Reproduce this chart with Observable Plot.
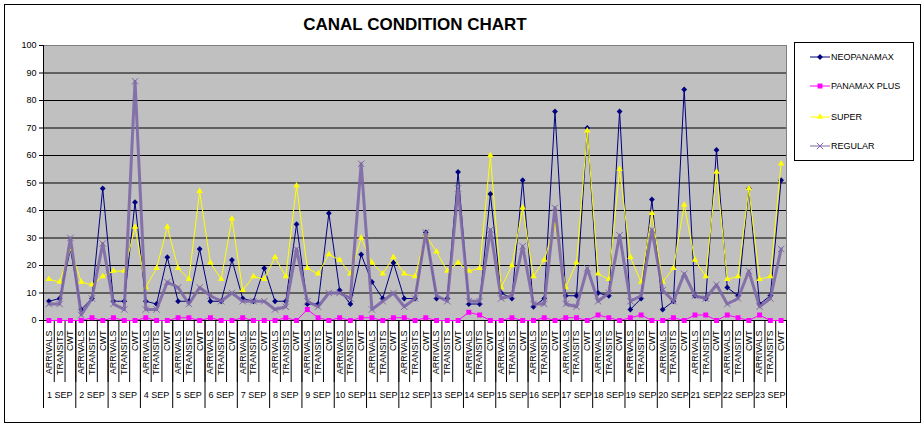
<!DOCTYPE html>
<html><head><meta charset="utf-8">
<script src="https://cdn.jsdelivr.net/npm/d3@7"></script>
<script src="https://cdn.jsdelivr.net/npm/@observablehq/plot@0.6"></script>
<style>
body{margin:0;background:#fff;font-family:"Liberation Sans",Arial,sans-serif;}
#wrap{position:relative;width:924px;height:427px;overflow:hidden;}
#frame{position:absolute;left:4px;top:4px;width:917px;height:419px;border:1px solid #000;box-sizing:border-box;pointer-events:none;}
#title{position:absolute;left:0;top:15px;width:830px;text-align:center;font:bold 17px "Liberation Sans",Arial,sans-serif;line-height:20px;color:#000;}
#chart{position:absolute;left:0;top:0;}
#legend{position:absolute;left:794px;top:42px;width:120px;height:119px;border:1px solid #000;box-sizing:border-box;background:#fff;}
</style>
</head><body>
<div id="wrap">
  <div id="chart"></div>
  <div id="title">CANAL CONDITION CHART</div>
  <div id="legend"></div>
  <div id="frame"></div>
</div>
<script>
const days = ["1 SEP","2 SEP","3 SEP","4 SEP","5 SEP","6 SEP","7 SEP","8 SEP","9 SEP","10 SEP","11 SEP","12 SEP","13 SEP","14 SEP","15 SEP","16 SEP","17 SEP","18 SEP","19 SEP","20 SEP","21 SEP","22 SEP","23 SEP"];
const categories = ["ARRIVALS","TRANSITS","CWT"];
const yTicks = [0,10,20,30,40,50,60,70,80,90,100];

const neopanamax = [7,8,26,4,8,48,7,7,43,7,6,23,7,7,26,7,7,22,8,7,19,7,7,35,
  6,6,39,11,6,24,14,8,21,8,8,32,8,8,54,6,6,46,10,8,51,5,
  8,76,9,9,70,10,9,76,4,8,44,4,7,84,9,8,62,12,9,48,6,9,51];
const panamaxPlus = [0,0,0,0,1,0,1,0,0,1,0,0,1,1,0,1,0,0,1,0,0,0,1,0,
  4,1,0,1,0,1,1,0,1,1,0,1,0,0,0,3,2,0,0,1,0,0,
  1,0,1,1,0,2,1,0,1,2,0,0,1,0,2,2,0,2,1,0,2,0,0];
const superV = [15,14,26,14,13,16,18,18,34,12,19,34,19,15,47,21,15,37,11,16,15,23,16,49,
  19,17,24,22,17,30,21,17,23,17,16,31,25,18,21,18,19,60,12,20,41,16,
  22,35,12,21,69,17,15,55,23,14,39,14,19,42,22,16,54,15,16,48,15,16,57];
const regular = [6,6,30,2,8,28,6,4,87,4,4,14,12,6,12,9,7,10,7,7,7,4,5,26,
  7,5,10,10,8,57,4,7,10,5,8,32,9,7,48,7,7,33,8,9,27,6,
  6,41,6,5,19,7,10,31,7,9,33,11,7,17,9,8,13,6,8,18,5,8,26];

const seriesNames = ["NEOPANAMAX","PANAMAX PLUS","SUPER","REGULAR"];
const seriesValues = [neopanamax, panamaxPlus, superV, regular];
const seriesColors = ["#000080","#ff00ff","#ffff00","#7e68a6"];

// one row per x category
const cats = [];
days.forEach((d, di) => categories.forEach((c, ci) => cats.push({day: d, cat: c, i: di*3+ci})));
const rows = (vals) => vals.map((v, i) => ({i, value: v}));

const catBounds = d3.range(0, cats.length + 1);
const dayBounds = d3.range(0, cats.length + 1, 3);
const xc = d => d.i + 0.5;

const marks = [
  Plot.frame({fill: "#c0c0c0", stroke: "#808080"}),
  Plot.ruleY(yTicks.filter(t => t > 0 && t < 100), {stroke: "#000", strokeWidth: 1}),
  Plot.axisY({ticks: yTicks, tickSize: 4, tickPadding: 3, fontSize: 9, label: null, stroke: "#000"}),
  Plot.axisX({ticks: catBounds, tickSize: 62, tickFormat: () => "", label: null}),
  Plot.axisX({ticks: dayBounds, tickSize: 88, tickFormat: () => "", label: null}),
  Plot.ruleX([0], {stroke: "#000"}),
  Plot.ruleY([0], {stroke: "#000"}),
  Plot.text(cats, {x: xc, text: "cat", frameAnchor: "bottom", dy: 10, rotate: -90, textAnchor: "end", lineAnchor: "middle", fontSize: 9, fill: "#000"}),
  Plot.text(days.map((d, di) => ({d, i: di*3 + 1})), {x: xc, text: "d", frameAnchor: "bottom", dy: 77, fontSize: 9, fill: "#000"}),
  // NEOPANAMAX
  Plot.line(rows(neopanamax), {x: xc, y: "value", stroke: seriesColors[0], strokeWidth: 1}),
  Plot.dot(rows(neopanamax), {x: xc, y: "value", symbol: "square", r: 2.3, rotate: 45, fill: seriesColors[0], stroke: "none"}),
  // PANAMAX PLUS
  Plot.line(rows(panamaxPlus), {x: xc, y: "value", stroke: seriesColors[1], strokeWidth: 1}),
  Plot.dot(rows(panamaxPlus), {x: xc, y: "value", symbol: "square", r: 2.8, fill: seriesColors[1], stroke: "none"}),
  // SUPER
  Plot.line(rows(superV), {x: xc, y: "value", stroke: seriesColors[2], strokeWidth: 1}),
  Plot.dot(rows(superV), {x: xc, y: "value", symbol: "triangle", r: 2.4, fill: seriesColors[2], stroke: "none"}),
  // REGULAR
  Plot.line(rows(regular), {x: xc, y: "value", stroke: seriesColors[3], strokeWidth: 3, strokeOpacity: 0.9}),
  Plot.dot(rows(regular), {x: xc, y: "value", symbol: "times", r: 3, stroke: seriesColors[3], strokeWidth: 1})
];

const chart = Plot.plot({
  width: 924, height: 427,
  marginLeft: 43, marginRight: 138, marginTop: 45, marginBottom: 107,
  x: {type: "linear", domain: [0, cats.length], axis: null},
  y: {type: "linear", domain: [0, 100], axis: null},
  style: {fontFamily: "'Liberation Sans', Arial, sans-serif", fontSize: "9px", background: "transparent", color: "#000"},
  marks
});
document.getElementById("chart").appendChild(chart);

// legend
const lg = d3.select("#legend").append("svg").attr("width", 118).attr("height", 117)
  .style("font-family", "'Liberation Sans', Arial, sans-serif").style("font-size", "9px");
const legY = [14, 43, 74, 103];
const symFns = [
  g => g.append("path").attr("d", d3.symbol(d3.symbolSquare, Math.PI*2.3*2.3)()).attr("transform", "rotate(45)").attr("fill", seriesColors[0]),
  g => g.append("path").attr("d", d3.symbol(d3.symbolSquare, Math.PI*2.8*2.8)()).attr("fill", seriesColors[1]),
  g => g.append("path").attr("d", d3.symbol(d3.symbolTriangle, Math.PI*2.4*2.4)()).attr("fill", seriesColors[2]),
  g => g.append("path").attr("d", d3.symbol(d3.symbolTimes, Math.PI*3*3)()).attr("fill", "none").attr("stroke", seriesColors[3])
];
seriesNames.forEach((name, k) => {
  const row = lg.append("g").attr("transform", `translate(0,${legY[k]})`);
  row.append("line").attr("x1", 15).attr("x2", 35).attr("stroke", seriesColors[k]).attr("stroke-width", 1);
  symFns[k](row.append("g").attr("transform", "translate(25,0)"));
  row.append("text").attr("x", 36).attr("dy", "0.35em").attr("fill", "#000").text(name);
});
</script>
</body></html>
